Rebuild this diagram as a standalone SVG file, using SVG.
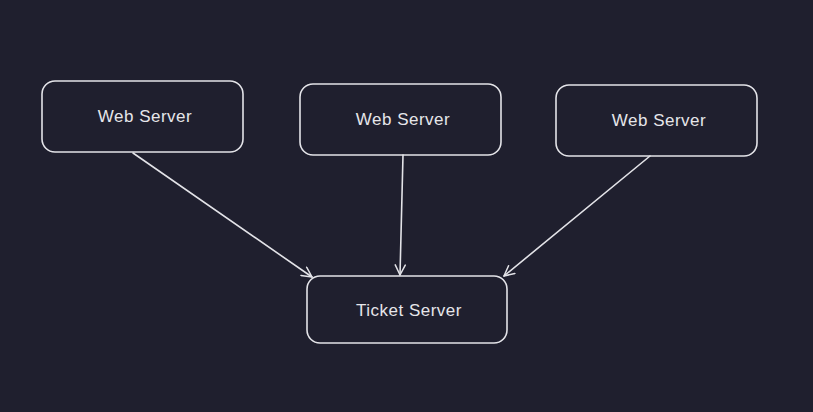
<svg xmlns="http://www.w3.org/2000/svg" width="813" height="412" viewBox="0 0 813 412">
<style>
.box{fill:none;stroke:#e3e3e8;stroke-width:1.6}
.lbl{font-family:"Liberation Sans",Arial,sans-serif;font-size:17px;letter-spacing:0.5px;fill:#e6e6ea;text-anchor:middle;dominant-baseline:central}
.edge{fill:none;stroke:#e3e3e8;stroke-width:1.6;stroke-linecap:round}
</style>
<defs>
<marker id="arr" viewBox="0 0 12 12" refX="11" refY="6" markerWidth="12" markerHeight="12" markerUnits="userSpaceOnUse" orient="auto">
<path d="M1,1 L11,6 L1,11" fill="none" stroke="#e3e3e8" stroke-width="1.5" stroke-linecap="round" stroke-linejoin="round"/>
</marker>
</defs>
<rect width="813" height="412" fill="#1f1f2e"/>
<g id="connectors">
<line class="edge" x1="133" y1="153" x2="312" y2="277" marker-end="url(#arr)"/>
<line class="edge" x1="403" y1="155" x2="400" y2="275" marker-end="url(#arr)"/>
<line class="edge" x1="650" y1="156" x2="504" y2="276" marker-end="url(#arr)"/>
</g>
<g id="web1">
<rect class="box" x="42" y="81" width="201" height="71" rx="13"/>
<text class="lbl" x="145" y="116">Web Server</text>
</g>
<g id="web2">
<rect class="box" x="300" y="84" width="201" height="71" rx="13"/>
<text class="lbl" x="403" y="119">Web Server</text>
</g>
<g id="web3">
<rect class="box" x="556" y="85" width="201" height="71" rx="13"/>
<text class="lbl" x="659" y="120">Web Server</text>
</g>
<g id="ticket">
<rect class="box" x="307" y="276" width="200" height="67" rx="13"/>
<text class="lbl" x="409" y="310">Ticket Server</text>
</g>
</svg>
